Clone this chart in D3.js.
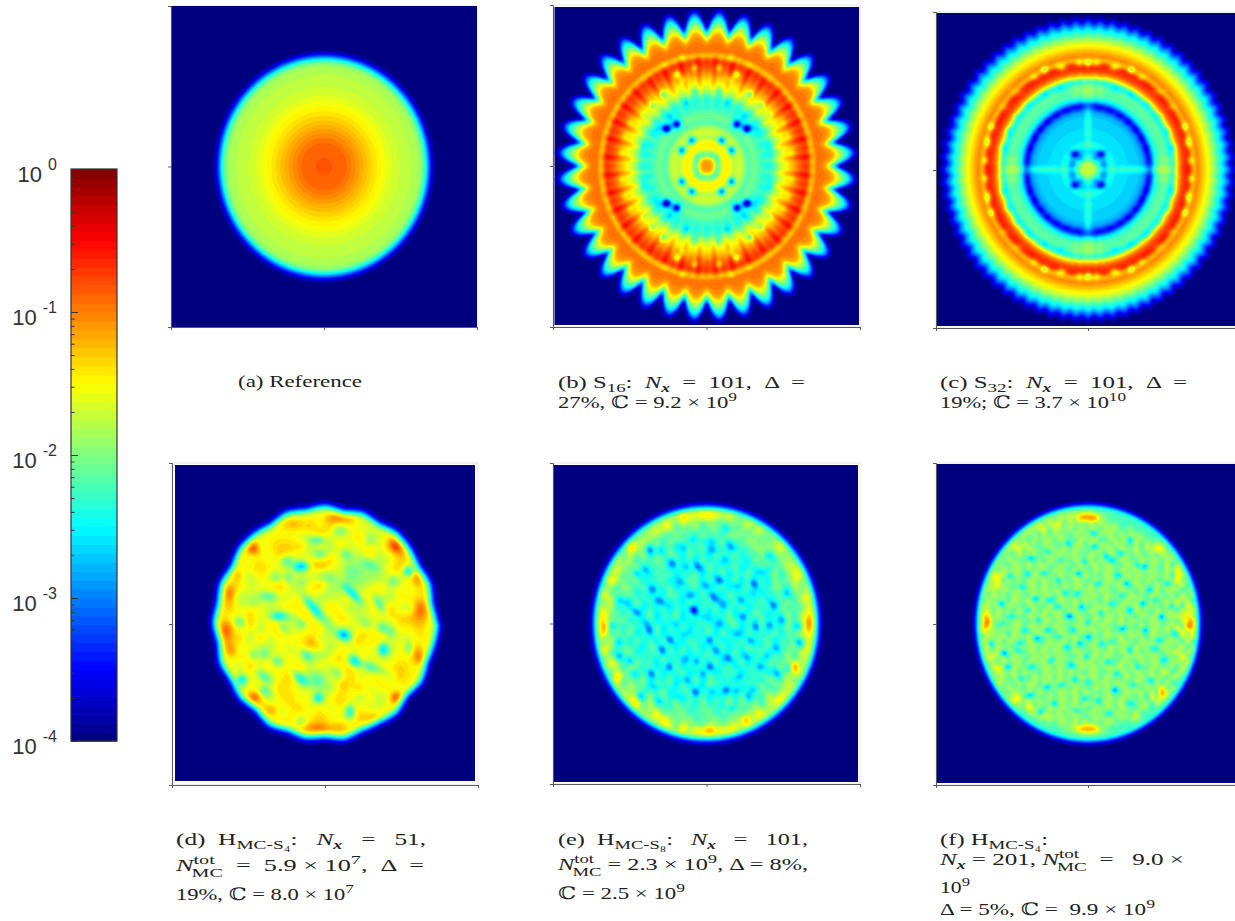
<!DOCTYPE html>
<html><head><meta charset="utf-8">
<style>html,body{margin:0;padding:0;background:#fff;overflow:hidden;width:1235px;height:921px}svg{display:block}</style>
<script src="https://cdn.jsdelivr.net/npm/d3@7"></script></head><body>
<svg id="fig" width="1235" height="921" xmlns="http://www.w3.org/2000/svg"></svg>
<script>
// ---------- colour bar ----------
const colorStops = ["#00007f","#0000ff","#00ffff","#ffff00","#ff0000","#7f0000"];
const colorStopAt = [0,0.125,0.375,0.625,0.875,1];
const barDomain = [1e-4,1];
const barMajor = [1,1e-1,1e-2,1e-3,1e-4];
const barExponent = ["0","-1","-2","-3","-4"];
const barMinorMantissa = [2,3,4,5,6,7,8,9];

// ---------- radial profiles: radius (sample units) -> position on the colour scale ----------
const profileRA = [0,60,90,130,160,210,270,290,300,308,316,326];
const profileTA = [.79,.78,.74,.68,.64,.58,.55,.54,.49,.38,.2,0];

const profileRB = [0,20,35,50,65,85,95,110,125,140,170,195,220,250,280,305,318,328,345,380,392,410,430,445,456];
const profileTB = [.73,.72,.5,.62,.66,.52,.6,.55,.43,.5,.42,.42,.58,.68,.8,.85,.62,.77,.77,.72,.62,.5,.36,.15,0];
const petalsB = 36;
const rayRB = [0,150,185,230,280,320,345];
const rayAB = [0,0,.1,.09,.07,.04,0];

const profileRC = [0,25,40,55,62,75,85,100,115,150,172,186,198,215,245,254,264,280,298,308,316,325,345,365,385,405,425,442];
const profileTC = [.56,.5,.38,.3,.38,.43,.33,.36,.34,.33,.27,.09,.34,.46,.47,.3,.58,.78,.86,.84,.62,.77,.68,.6,.48,.36,.16,0];
const scallopsC = 72;

// ---------- spots (x, y, change, spread x, spread y, turn) ----------
const spotsB = [[45,77,-.6,6,6,0],[75,47,-.6,6,6,0],[90,125,-.65,7,7,0],[120,112,-.65,8,7,0],[130,215,-.4,5,5,0],
 [90,275,-.45,5,5,0],[36,295,-.3,5,5,0],[165,180,-.3,5,5,0],[10,32,-.3,4,4,0],[30,10,-.3,4,4,0],[28,28,-.3,4,4,0],
 [60,190,-.2,5,5,0],[110,150,-.22,5,5,0],[150,110,-.22,5,5,0],[190,55,-.2,5,5,0],[36,225,-.2,4,7,0],[70,260,-.18,4,7,0],
 [190,150,-.15,4,6,0],[230,130,-.16,4,5,0],[245,90,-.16,4,5,0],[255,40,-.16,4,5,0],[75,325,-.18,4,5,0],[130,300,-.16,4,5,0],[180,265,-.14,4,5,0]];
const spotsC = [[40,47,-.42,8,6,0],[20,32,-.2,5,5,0],[45,15,-.18,5,5,0],[12,12,.06,6,6,0],
 [32,182,-.1,8,5,0],[63,174,-.1,8,5,0],[93,160,-.09,8,5,0],[119,142,-.1,8,5,0],[141,119,-.1,8,5,0],[160,93,-.1,6,8,0],[174,63,-.1,6,8,0],[182,32,-.1,5,8,0],
 [0,135,.1,3,55,0],[135,0,.1,55,3,0],[225,8,.14,36,3,0],[225,30,.1,30,3,0],[10,240,.14,3,32,0],[35,240,.1,3,28,0],
 [25,319,-.32,7,4,0],[0,319,-.32,5,4,0],[80,307,-.34,9,4,0],[130,299,-.4,5,5,0],[160,277,-.2,7,4,0],[210,232,-.12,10,4,0],[250,187,-.12,8,4,0],[290,129,-.36,5,5,0],[300,82,-.38,4,9,0],[308,27,-.36,4,5,0],
 [80,240,-.16,6,4,0],[130,225,-.14,6,4,0],[180,195,-.14,6,4,0],[215,160,-.14,6,4,0],[240,115,-.18,5,6,0],[255,65,-.2,5,6,0]];
const spotsD = [[-20,247,-.35,14,6,0],[-15,210,-.22,14,8,0],[-115,187,-.24,12,9,0],[-70,170,-.42,16,7,0],[250,155,-.44,8,8,0],
 [-145,137,-.24,10,7,-45],[-110,137,-.24,10,7,-45],[95,135,-.15,44,26,0],[85,85,-.4,26,6,-45],[-175,80,-.24,24,7,0],[-35,45,-.38,38,7,-50],
 [-140,20,-.44,18,6,0],[55,-35,-.46,13,9,-30],[-255,5,-.24,9,8,0],[-125,-15,-.22,11,6,-45],[-70,0,-.2,9,7,-45],[165,55,-.26,22,6,-60],
 [205,125,-.2,10,9,0],[125,-5,-.18,10,7,-45],[175,-15,-.22,12,6,-45],[-55,-95,-.27,12,6,-45],[-215,-95,-.22,7,7,0],[-180,-95,-.26,7,7,0],
 [-145,-115,-.26,12,7,-30],[-250,-170,-.46,9,9,-45],[-185,-160,-.27,15,6,-40],[-75,-165,-.3,20,6,-45],[-35,-175,-.15,26,20,0],
 [90,-115,-.4,12,9,-45],[175,-80,-.38,8,13,0],[250,-75,-.25,7,12,0],[-20,-225,-.4,9,8,0],[75,-265,-.4,8,14,0],[-180,-205,-.25,10,7,-20],
 [-70,-300,-.16,9,9,0],[-135,-275,-.12,12,8,0],[145,-135,-.2,30,6,-20],[135,175,-.2,20,8,-30],[45,275,-.15,14,10,0],[135,250,-.15,12,14,0],[65,205,-.22,12,6,-30],
 [-70,120,-.12,10,10,0],[15,135,-.1,14,10,0],[200,-30,-.18,7,12,0],[-15,-95,-.14,14,8,0],[35,-150,-.14,12,8,-40],[-210,60,-.12,16,8,0],
 [-215,-5,.04,8,8,0],
 [-215,225,.25,14,12,-30],[215,230,.25,16,10,-45],[-215,-225,.27,12,10,0],[215,-225,.27,11,10,0],[285,35,.17,14,30,0],[-295,-25,.16,12,24,0],
 [-285,85,.14,9,17,0],[-15,-315,.16,38,9,0],[45,315,.16,30,9,0],[-95,300,.1,20,9,0],[280,-95,.14,8,20,0],[-280,-85,.1,9,14,0],[275,135,.11,8,16,0],[-265,145,.09,9,14,0],
 [-155,-265,.12,16,9,-30],[145,-285,.1,16,9,0],[-5,120,.08,20,7,0],[-65,15,.1,12,7,-45],[-15,175,.1,16,7,0],[195,25,.08,8,8,0],[95,-55,.07,14,6,-45],[55,-185,.09,8,10,0],[-40,-55,.07,12,6,0],[-65,235,.06,14,7,0]];
const spotsEHot = [[2,325,.2,32,8,0],[7,-322,.2,32,8,0],[-308,0,.2,9,26,0],[312,0,.2,9,26,0],[-68,318,.13,9,7,0],[72,318,.12,9,7,0],
 [-118,290,.13,9,7,-30],[-148,278,.12,9,7,-30],[127,295,.12,10,7,30],[157,278,.13,9,7,30],[-218,228,.15,14,8,45],[222,228,.14,14,8,-45],
 [-263,160,.14,9,8,0],[-276,130,.13,9,8,0],[272,145,.15,8,14,0],[-298,80,.12,8,8,0],[302,80,.1,8,8,0],[-301,-75,.12,8,8,0],[302,-75,.11,8,8,0],
 [-278,-122,.12,9,7,0],[267,-130,.2,9,14,0],[-261,-160,.14,8,8,0],[-218,-230,.17,14,9,-45],[222,-225,.14,14,9,45],[-148,-275,.14,8,9,0],[-118,-290,.15,9,9,0],
 [-68,-315,.12,8,7,0],[122,-290,.16,8,12,0],[157,-272,.13,8,10,0],[77,-313,.12,9,7,0]];
const spotsEDark = [[-206,32],[-178,2],[-68,-30],[-38,40],[-28,-113],[-58,-107],[-133,-78],[-258,-58],[-280,-7],[-261,-97],[-228,-113],[-140,70],[-48,83],[2,115],[92,112],[42,130],[-181,160],[-208,150],[-68,228],[22,220],[-38,250],[72,230],[17,245],[167,155],[202,55],[227,10],[277,-8],[277,-57],[212,-75],[137,-55],[112,20],[42,0],[192,-5],[67,-105],[142,-200],[22,-205],[-33,-205],[-153,-190],[-138,-235],[-198,-218],[77,-255],[127,-220],[12,-130],[-8,-150],[102,-160],[212,-150],[247,-140],[-78,125],[-98,180],[-58,170],[62,190],[142,120],[192,200],[62,285],[-168,220],[-138,220],[-218,40],[-108,-50],[-8,20],[-38,40],[12,-50],[92,-30],[182,-100],[-163,-150],[-238,60],[-258,70],[-158,100],[-128,60],[102,70],[22,80],[142,90],[-58,-170],[62,-200],[92,-200],[-88,-220],[-170,-20],[-90,0],[30,-80],[150,-10],[240,90],[-220,-150],[-25,170],[120,-100],[160,-130],[-110,-130],[50,60]];
const spotsFHot = [[3,318,.25,28,9,0],[3,-318,.25,28,9,0],[-304,3,.26,8,20,0],[305,0,.27,10,24,0],[-275,140,.12,10,12,0],[-280,110,.12,10,10,0],[215,225,.13,12,12,0],[-270,-135,.12,9,9,0],[-215,-225,.1,12,9,0],[-178,-250,.1,9,8,0],[-135,-280,.1,10,8,0],[140,-282,.13,11,9,0],[220,-215,.16,12,18,-45],[-95,295,.08,10,8,0],[-140,285,.08,12,8,0],[-210,230,.07,16,10,0],[275,140,.1,8,16,0],[280,-100,.1,8,16,0],[-285,-100,.08,9,9,0]];
const spotsFDark = [[-55,22],[0,3],[100,85],[-115,70],[-155,75],[55,200],[70,190],[-90,130],[-20,50],[-80,-185],[5,-175],[-140,-265],[-250,-90],[-210,-80],[-110,-110],[-60,-70],[-25,-60],[70,-55],[60,-115],[200,70],[170,-20],[210,-50],[150,-130],[30,-230],[80,-200],[-35,-260],[-180,40],[-230,20],[-120,-20],[-70,90],[30,120],[-10,185],[-60,240],[15,270],[125,250],[150,175],[-170,195],[-120,215],[-230,140],[-200,110],[-260,60],[-290,-60],[-165,-130],[-200,-165],[-120,-190],[-50,-125],[40,-60],[125,-80],[105,-15],[40,30],[125,40],[240,120],[220,20],[260,-30],[185,100],[90,145],[-30,150],[-130,150],[-45,-20],[-85,-40],[-150,-45],[-190,-20],[-10,-225],[60,-270],[130,-240],[190,-170],[230,-110],[250,50],[170,170],[70,60],[-5,-100],[-100,-240],[-175,-215],[-240,-130],[-255,0],[-90,50],[165,60],[85,-150],[-30,90],[-150,10],[20,230],[100,210],[-80,190],[-180,150],[0,-40],[-40,-170],[140,-185],[195,-75],[115,120],[-205,-60]];
const riseD = [.62];

// ---------- hand-read blotch levels for the scattered panels (digit = local level) ----------
const levelsD = ["555555555555555555555555","555566765565666555555555","555657466676756555755555","556675666547565765667555",
"556564677647465575766555","567756576565755564576555","566567655476664565675655","575646576554576765656765",
"567655675667456677565675","576457565764557665466565","667566457675764566754667","665675764566576456577566",
"576564675567465674566656","566747566675564767655665","677564465677466565467566","565665756546675756566755",
"566475666756567646676565","656756467564657566576655","567465576675466756656565","566756467565676464576655",
"556567656756567655667555","555666576567656766565555","555556675766576556555555","555555566667755555555555"];
const levelsE = ["444444444444444444444444444444444444","444444444555655544444444444444444444","444444455645546554544444444444444444",
"444445546354635463554544444444444444","444456453645364536453655444444444444","444564536453645463546354654444444444",
"444553645364536546354635465544444444","445463546354653645365463546354444444","445364635465364536453645364635544444",
"454635463546354653645463546354654444","456453645364635463546354635463545444","453645463546354654635463645364554444",
"564536546354635463546354635465364544","546354635463654536453645463546354544","453645364536453654635463546354636544",
"564635463546354635463546354636453644","536453654635463546354635465354636544","463546354635463546354654636453645644",
"536453645463546354635463546354635644","546354635463546354636453645463546544","463645364536453645463546354635463644",
"564536453654635463546354654635463544","546354635463546354635463546354636544","453645364536453645463546354654635544",
"456453654635463546354635463546364544","445364635463546354635463546354655444","445463546354635463654536453654635444",
"444563645364536453645463546354654444","444455463546354635463546354635544444","444446354635463546354636453654544444",
"444444563645364536453645463555444444","444444445463546354635463546544444444","444444445546354635463546554444444444",
"444444444455636453645465544444444444","444444444444555454545544444444444444","444444444444444444444444444444444444"];
const levelsF = ["4444444444444444444444444444444444444444444444","4444444444444444555555554444444444444444444444","4444444444444556465646556444444444444444444444",
"4444444444555646564655464655544444444444444444","4444444456465564655646556465645544444444444444","4444444564655464655465564656464655444444444444",
"4444456465546556465546556446556465544444444444","4444565564655465546556465564655464655444444444","4445646556465546556465546556465564656544444444",
"4456465546556465564655465546556465463655444444","4465564655465546556465564655465546556465444444","4564655465564655465546556465546556465473644444",
"4565546556465564655465546556465564655465744444","5646556465546556465564655465546556465563655444","5465564655465564655465546556465564655465736444",
"5655465546556465546556465564655465546556473544","6465546556465564655465564655465546556465635744","5564655465546556465546556465564655465546374644",
"6546556465564655465564655465546556465564756354","5465564655465546556465546556465564655465637544","6556465546556465564655465564655465546556374654",
"5465564655465564655465546556465546556465756344","5646556465546556465546556465564655465546373654","6465546556465564655465564655465546556465736544",
"5564655465546556465546556465546556465564673544","6546556465564655465564655465564655465546374654","5465564655465546556465546556465546556465637344",
"6556465546556465564655465546556465564655473654","5465564655465564655465546556465564655465736544","5646556465546556465546556465546556465546374544",
"4465546556465564655465564655465546556465637444","4564655465546556465546556465564655465546374444","4455465564655465564655465546556465564673654444",
"4456556465546556465546556465546556465637544444","4445465546556465564655465564655465546373444444","4444564655465546556465546556465564655736444444",
"4444455465564655465564655465546556463754444444","4444446556465546556465546556465546373544444444","4444444465564655465564655465564655636444444444",
"4444444445465546556465546556465546544444444444","4444444444456465564655465564655464444444444444","4444444444444546556465546556465444444444444444",
"4444444444444445465564655465544444444444444444","4444444444444444445556555444444444444444444444","4444444444444444444444444444444444444444444444","4444444444444444444444444444444444444444444444"];

// ---------- rim of the disks: radius / disk radius -> ceiling on the colour scale ----------
const rimAt = [.9,.95,.98,1,1.035];
const rimTop = [1,.6,.42,.2,0];
const rimBumpsD = [6,-4,5,-5,3,7,-4,4,-6,5,-3,6,-5,2,5,-7,4,-3,6,-5,5,-4,3,-6,7,-3,4,-5,6,-4,-2,5,-8,5,-3,4];

// ---------- captions ----------
const captionA = ["(a) Reference"];
const captionB = ["(b) S_{16}:  *N*_b{x}  =  101,  Δ  =","27%, ℂ = 9.2 × 10^{9}"];
const captionC = ["(c) S_{32}:  *N*_b{x}  =  101,  Δ  =","19%; ℂ = 3.7 × 10^{10}"];
const captionD = ["(d)  H_{MC-S₄}:   *N*_b{x}   =   51,","*N*@{tot|MC}  =  5.9 × 10^{7},  Δ  =","19%, ℂ = 8.0 × 10^{7}"];
const captionE = ["(e)  H_{MC-S₈}:   *N*_b{x}   =   101,","*N*@{tot|MC} = 2.3 × 10^{9}, Δ = 8%,","ℂ = 2.5 × 10^{9}"];
const captionF = ["(f) H_{MC-S₄}:","*N*_b{x} = 201, *N*@{tot|MC}  =   9.0 ×","10^{9}","Δ = 5%, ℂ =  9.9 × 10^{9}"];

// ---------- scales ----------
const svg = d3.select("#fig");
const jet = d3.scaleLinear().domain(colorStopAt).range(colorStops).interpolate(d3.interpolateRgb).clamp(true);
const BANDS = 56;
const bandLevels = d3.range(1,BANDS).map(i=>i/BANDS);

function mirror(list){ const out=[]; list.forEach(s=>{ const [x,y,...r]=s;
  out.push([x,y,...r],[-x,y,...r],[x,-y,...r],[-x,-y,...r]); }); return out; }

function drawPanel(p){
  const n=p.grid, m=p.grid;
  const gx=d3.scaleLinear().domain([0,n]).range([-p.hw,p.hw]);
  const gy=d3.scaleLinear().domain([0,m]).range([p.hh,-p.hh]);
  const ratio=p.hw/p.hh;
  const vals=new Float64Array(n*m);
  const texture = p.levels ? d3.scaleLinear().domain([-p.span,p.span]).range([0,p.levels.length-1]).clamp(true) : null;
  for(let j=0;j<m;j++){ const y=gy(j+.5);
    for(let i=0;i<n;i++){ const x=gx(i+.5);
      const yn=y*ratio, r=Math.hypot(x,yn), th=Math.atan2(yn,x);
      let t=p.base(r,th);
      if(texture){
        const u=texture(x), v=texture(-y), u0=Math.floor(u), v0=Math.floor(v), fu=u-u0, fv=v-v0, L=p.levels.length-1;
        const g=(a,b)=>+p.levels[Math.min(b,L)][Math.min(a,L)];
        const d=(g(u0,v0)*(1-fu)+g(u0+1,v0)*fu)*(1-fv)+(g(u0,v0+1)*(1-fu)+g(u0+1,v0+1)*fu)*fv;
        t+=(d-p.levelMid)*p.levelAmp;
      }
      vals[j*n+i]=t;
    }
  }
  (p.spots||[]).forEach(s=>{
    const [sx0,sy0,dt,a,b,rot]=s, c=Math.cos(rot*Math.PI/180), q=Math.sin(rot*Math.PI/180), R=3.2*Math.max(a,b);
    const i0=Math.max(0,Math.floor(gx.invert(sx0-R))), i1=Math.min(n-1,Math.ceil(gx.invert(sx0+R)));
    const j0=Math.max(0,Math.floor(gy.invert(sy0+R))), j1=Math.min(m-1,Math.ceil(gy.invert(sy0-R)));
    for(let j=j0;j<=j1;j++){ const dy=gy(j+.5)-sy0;
      for(let i=i0;i<=i1;i++){ const dx=gx(i+.5)-sx0, e=(dx*c+dy*q)/a, f=(-dx*q+dy*c)/b;
        vals[j*n+i]+=dt*Math.exp(-.5*(e*e+f*f)); } }
  });
  if(p.disk){
    const rim=d3.scaleLinear().domain(rimAt).range(rimTop).clamp(true);
    const bump=p.bumps? d3.scaleLinear().domain(p.bumps.map((_,k)=>k/p.bumps.length*2*Math.PI)).range(p.bumps):null;
    for(let j=0;j<m;j++){ const y=gy(j+.5)*ratio;
      for(let i=0;i<n;i++){ const x=gx(i+.5), r=Math.hypot(x,y);
        let R=p.disk; if(bump){let a=Math.atan2(y,x); if(a<0)a+=2*Math.PI; R+=bump(a);}
        vals[j*n+i]=Math.min(vals[j*n+i],rim(r/R)); } }
  }
  if(d3.blur2) d3.blur2({data:vals,width:n,height:m},p.soft==null?.5:p.soft);
  const px=d3.scaleLinear().domain([0,n]).range([p.img[0],p.img[1]]);
  const py=d3.scaleLinear().domain([0,m]).range([p.img[2],p.img[3]]);
  const path=d3.geoPath(d3.geoTransform({point(x,y){this.stream.point(+px(x).toFixed(1),+py(y).toFixed(1));}}));
  const g=svg.append("g").attr("class","panel");
  g.append("rect").attr("x",p.frame[0]).attr("y",p.frame[2]).attr("width",p.frame[1]-p.frame[0]).attr("height",p.frame[3]-p.frame[2]).attr("fill","none").attr("stroke","#e6e6e6");
  g.append("rect").attr("x",p.img[0]).attr("y",p.img[2]).attr("width",p.img[1]-p.img[0]).attr("height",p.img[3]-p.img[2]).attr("fill",jet(0));
  const cid="clip"+p.id;
  g.append("clipPath").attr("id",cid).append("rect").attr("x",p.img[0]).attr("y",p.img[2]).attr("width",p.img[1]-p.img[0]).attr("height",p.img[3]-p.img[2]);
  const cs=d3.contours().size([n,m]).thresholds(bandLevels)(Array.from(vals));
  g.append("g").attr("clip-path",`url(#${cid})`).selectAll("path").data(cs.filter(c=>c.coordinates.length)).join("path")
    .attr("d",path).attr("fill",c=>jet(c.value+.5/BANDS));
  // axes
  const ax=d3.scaleLinear().domain([-p.hw,p.hw]).range([p.frame[0],p.frame[1]]);
  const ay=d3.scaleLinear().domain([-p.hh,p.hh]).range([p.frame[3],p.frame[2]]);
  const bottom=g.append("g").attr("transform",`translate(0,${p.frame[3]})`).call(d3.axisBottom(ax).tickValues([-p.hw,0,p.hw]).tickSize(3).tickFormat(""));
  const left=g.append("g").attr("transform",`translate(${p.frame[0]},0)`).call(d3.axisLeft(ay).tickValues([-p.hh,0,p.hh]).tickSize(3).tickFormat(""));
  [bottom,left].forEach(a=>{a.selectAll("path,line").attr("stroke","#5a5a5a").attr("stroke-width",1);a.selectAll("text").remove();});
}

// ---------- panels ----------
const profA=d3.scaleLinear().domain(profileRA).range(profileTA).clamp(true);
const profB=d3.scaleLinear().domain(profileRB).range(profileTB).clamp(true);
const rayB=d3.scaleLinear().domain(rayRB).range(rayAB).clamp(true);
const profC=d3.scaleLinear().domain(profileRC).range(profileTC).clamp(true);
const flatD=d3.scaleLinear().domain([0,300,340]).range([.6,.62,.62]);
const flatE=d3.scaleLinear().domain([0,210,270,300,330]).range([.41,.42,.47,.52,.54]);
const flatF=d3.scaleLinear().domain([0,250,300,335]).range([.5,.5,.5,.52]);

drawPanel({id:"a",hw:459,hh:481.5,grid:130,img:[171,477,6,327],frame:[171,477,6,327],base:(r)=>profA(r),soft:.4});
drawPanel({id:"b",hw:457,hh:477,grid:190,img:[554.5,859,7,325],frame:[553,860,5,327],soft:.4,spots:mirror(spotsB),
  base:(r,th)=>{
    const ph=petalsB*(th-5*Math.PI/180);
    if(r>322){
      const w=Math.pow(Math.abs(Math.cos(ph/2)),.85), edge=385+70*w;
      const s=322+(r-322)*(456-322)/(edge-322);
      return profB(s);
    }
    return profB(r)+rayB(r)*(.75*Math.cos(2*ph)+.45*Math.cos(ph));
  }});
drawPanel({id:"c",hw:453,hh:470,grid:190,img:[937,1239,13,326],frame:[936,1240,12,328],soft:.4,spots:mirror(spotsC),
  base:(r,th)=>{
    const k=Math.min(1,Math.max(0,(r-345)/90));
    return profC(r-7*Math.cos(scallopsC*th)*k);
  }});
drawPanel({id:"d",hw:450,hh:474,grid:170,img:[175,475,465,781],frame:[172,478,463,785],soft:.9,disk:332,bumps:rimBumpsD,
  base:(r)=>flatD(r),levels:levelsD,span:345,levelMid:5.6,levelAmp:.045,spots:spotsD});
drawPanel({id:"e",hw:456,hh:475,grid:190,img:[554,858,465,782],frame:[553,860,463,784],soft:.6,disk:338,
  base:(r)=>flatE(r),levels:levelsE,span:345,levelMid:4.6,levelAmp:.06,
  spots:spotsEHot.concat(spotsEDark.map((d,i)=>[d[0],d[1],i%3?-.22:-.34,i%2?9:7,5,i%3?-35:-50]))});
drawPanel({id:"f",hw:453,hh:478,grid:240,img:[937,1239,464,783],frame:[936,1240,463,785],soft:.45,disk:336,
  base:(r)=>flatF(r),levels:levelsF,span:345,levelMid:5,levelAmp:.07,
  spots:spotsFHot.concat(spotsFDark.map((d,i)=>[d[0],d[1],i%4?-.26:-.38,i%3?5:7,4,0]))});

// ---------- colour bar ----------
const barY=d3.scaleLog().domain(barDomain).range([741,169]);
const bar=svg.append("g").attr("class","colorbar");
const barCells=d3.range(64).map(i=>i);
const cellScale=d3.scaleLinear().domain([0,64]).range([0,1]);
bar.selectAll("rect.cell").data(barCells).join("rect").attr("class","cell")
  .attr("x",71).attr("width",46)
  .attr("y",d=>barY(Math.pow(10,-4+4*cellScale(d+1))))
  .attr("height",d=>barY(Math.pow(10,-4+4*cellScale(d)))-barY(Math.pow(10,-4+4*cellScale(d+1)))+.6)
  .attr("fill",d=>jet(cellScale(d+.5)));
const minor=[]; barMajor.slice(1).forEach(b=>barMinorMantissa.forEach(k=>minor.push(b*k)));
const tickG=bar.append("g").attr("transform","translate(71,0)");
tickG.call(d3.axisRight(barY).tickValues(minor).tickSize(3.5).tickFormat(""));
tickG.selectAll("path").remove();
const tickH=bar.append("g").attr("transform","translate(71,0)");
tickH.call(d3.axisRight(barY).tickValues(barMajor).tickSize(7).tickFormat(""));
tickH.selectAll("path").remove();
bar.selectAll("line").attr("stroke","#333").attr("stroke-width",1);
bar.selectAll("g.tick text").remove();
bar.append("rect").attr("x",71).attr("y",169).attr("width",46).attr("height",572).attr("fill","none").attr("stroke","#333").attr("stroke-width",1.2);
const lab=bar.selectAll("text.lab").data(barMajor).join("text").attr("class","lab")
  .attr("x",57).attr("y",d=>barY(d)+13).attr("text-anchor","end")
  .attr("font-family","'Liberation Sans',Arial,sans-serif").attr("fill","#333");
lab.append("tspan").attr("font-size",22).text("10");
lab.append("tspan").attr("font-size",16).attr("dx",6).attr("dy",-12).text((d,i)=>barExponent[i]);

// ---------- captions ----------
function caption(lines,x,ys,widths){
  lines.forEach((line,i)=>{
    const t=svg.append("text").attr("class","cap").attr("x",x).attr("y",ys[i])
      .attr("font-family","'Liberation Serif','DejaVu Serif',serif").attr("font-size",17).attr("fill","#222")
      .attr("xml:space","preserve").style("white-space","pre")
      .attr("textLength",widths[i]).attr("lengthAdjust","spacingAndGlyphs");
    const re=/(_b\{[^}]*\}|_\{[^}]*\}|\^\{[^}]*\}|@\{[^}]*\}|\*[^*]+\*)/;
    let back=0;
    const add=(s,o={})=>{const sp=t.append("tspan").text(s);
      const dy=(o.dy||0)+back; back=-(o.dy||0); if(dy)sp.attr("dy",dy);
      if(o.fs)sp.attr("font-size",o.fs); if(o.st)sp.attr("font-style",o.st); if(o.w)sp.attr("font-weight",o.w); if(o.dx)sp.attr("dx",o.dx); };
    line.split(re).filter(s=>s!=="").forEach(s=>{
      if(s.startsWith("_b{")) add(s.slice(3,-1),{dy:4,fs:12,st:"italic",w:"bold"});
      else if(s.startsWith("_{")) add(s.slice(2,-1),{dy:4,fs:13});
      else if(s.startsWith("^{")) add(s.slice(2,-1),{dy:-7,fs:13});
      else if(s.startsWith("@{")){ const [a,b]=s.slice(2,-1).split("|"); add(a,{dy:-7,fs:13}); add(b,{dy:6,fs:13,dx:-15}); }
      else if(s.startsWith("*")) add(s.slice(1,-1),{st:"italic"});
      else add(s);
    });
  });
}
caption(captionA,238,[387],[124]);
caption(captionB,558,[388,408],[247,179]);
caption(captionC,940,[388,408],[247,186]);
caption(captionD,176,[845,871,900],[250,248,178]);
caption(captionE,558,[845,870,899],[250,250,127]);
caption(captionF,940,[845,865,893,915],[108,244,30,215]);
</script></body></html>
